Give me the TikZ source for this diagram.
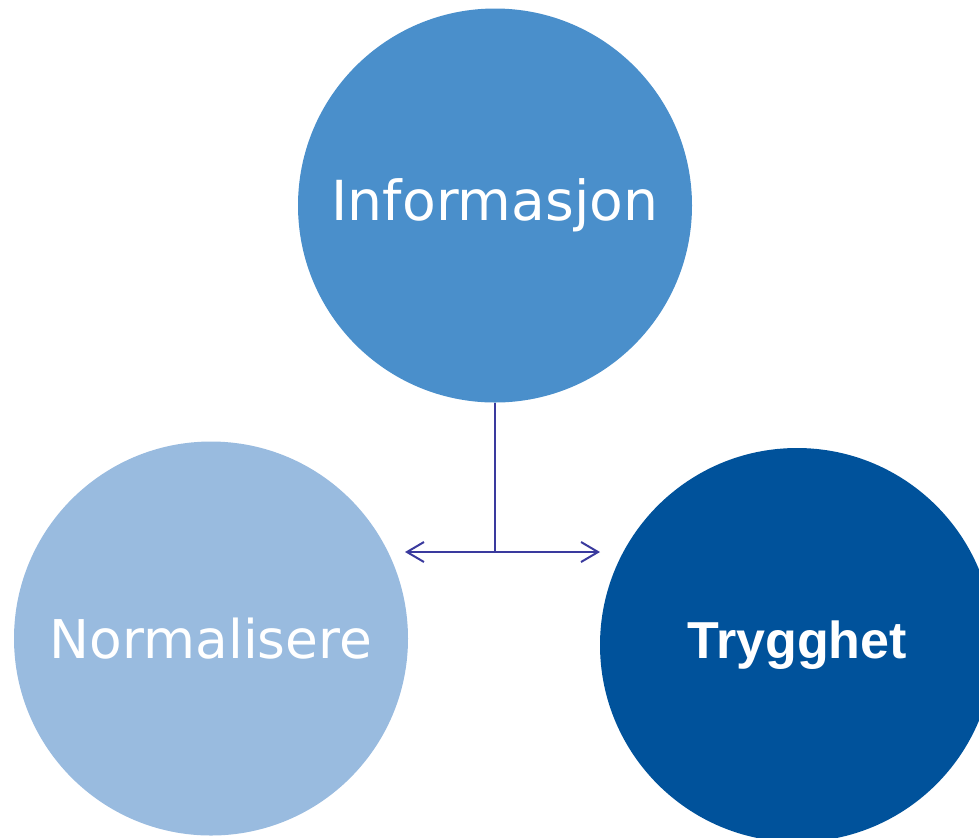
\documentclass[tikz,border=0pt]{standalone}
\usepackage{fontspec}
\setmainfont{Liberation Sans}
\newfontfamily\verafont{DejaVu Sans}
\usetikzlibrary{arrows.meta}

\definecolor{infoblue}{HTML}{4A8FCB}
\definecolor{normblue}{HTML}{99BBDF}
\definecolor{tryggblue}{HTML}{00529B}
\definecolor{linkblue}{HTML}{3A3A9E}

\tikzset{
	bubble/.style={circle, minimum size=197pt, inner sep=0pt, text=white},
	link/.style={draw=linkblue, line width=1pt},
	tip/.style={-{Straight Barb[length=8.5pt, width=10pt, line width=1pt]}}
}

\begin{document}
\begin{tikzpicture}[x=0.5pt, y=-0.5pt]

	\useasboundingbox (0,0) rectangle (979,837);
	\clip (0,0) rectangle (979,837);

	\node [bubble, fill=infoblue] (info) at (495, 205.5) {\verafont\fontsize{27.6}{32}\selectfont Informasjon};
	\node [bubble, fill=normblue] (norm) at (211, 638.5) {\verafont\fontsize{26.7}{32}\selectfont Normalisere};
	\node [bubble, fill=tryggblue] (trygg) at (797, 645) {\fontsize{26}{32}\selectfont\bfseries Trygghet};

	\coordinate (split) at (495, 552);
	\coordinate (lefttip) at (405, 552);
	\coordinate (righttip) at (600, 552);

	\draw [link] (info.south) -- (split);
	\draw [link, tip] (split) -- (lefttip);
	\draw [link, tip] (split) -- (righttip);

\end{tikzpicture}
\end{document}
